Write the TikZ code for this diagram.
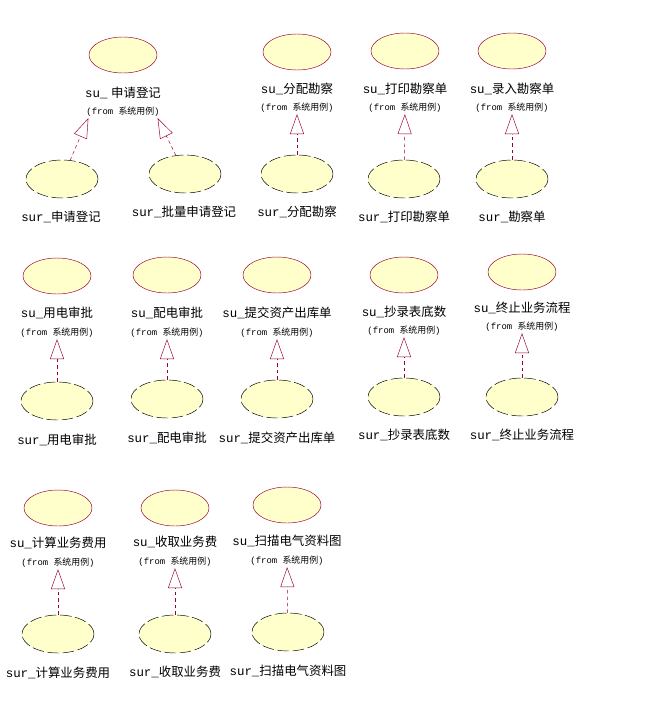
\documentclass[tikz,border=0pt]{standalone}
\usepackage{fontspec}
\setmainfont{Liberation Mono}
\newfontfamily\cjk{Noto Sans CJK SC}
\usetikzlibrary{shapes.geometric,arrows.meta}
\definecolor{ucred}{HTML}{990033}
\definecolor{ucfill}{HTML}{FFFFCC}
\newcommand{\zh}[1]{{\cjk #1}}

\begin{document}
\begin{tikzpicture}[x=0.03cm, y=-0.03cm,
    usecase/.style={ellipse, draw=ucred, fill=ucfill, minimum width=2.04cm, minimum height=1.08cm, inner sep=0pt},
    realcase/.style={ellipse, draw=black, dash pattern=on 10pt off 3pt, fill=ucfill, minimum width=2.16cm, minimum height=1.14cm, inner sep=0pt},
    ucname/.style={font=\fontsize{10.6pt}{12pt}\selectfont, inner sep=1pt},
    fromtag/.style={font=\fontsize{7.6pt}{9pt}\selectfont, inner sep=1pt},
    realize/.style={draw=ucred, thin, dash pattern=on 3pt off 2.5pt, -{Triangle[open, length=0.6cm, width=0.42cm]}}]
    \useasboundingbox (0,0) rectangle (657,727);

    % ==== 第一行 ====
    \node[usecase] (su1) at (123,55) {};
    \node[ucname] (su1name) at (123,93) {su\_\hspace{0.3em}\zh{申请登记}};
    \node[fromtag] (su1from) at (123,112) {(from \zh{系统用例})};
    \node[realcase] (sur1a) at (62,179) {};
    \node[ucname] (sur1aname) at (61,217) {sur\_\zh{申请登记}};
    \node[realcase] (sur1b) at (185,174) {};
    \node[ucname] (sur1bname) at (184,212) {sur\_\zh{批量申请登记}};
    \draw[realize] (sur1a) -- ([xshift=0.1cm]su1from.south west);
    \draw[realize] (sur1b) -- ([xshift=-0.1cm]su1from.south east);

    \node[usecase] (su2) at (297,52) {};
    \node[ucname] (su2name) at (297,89) {su\_\zh{分配勘察}};
    \node[fromtag] (su2from) at (297,108) {(from \zh{系统用例})};
    \node[realcase] (sur2) at (297,174) {};
    \node[ucname] (sur2name) at (297,212) {sur\_\zh{分配勘察}};
    \draw[realize] (sur2) -- (su2from);

    \node[usecase] (su3) at (405,51) {};
    \node[ucname] (su3name) at (405,89) {su\_\zh{打印勘察单}};
    \node[fromtag] (su3from) at (405,108) {(from \zh{系统用例})};
    \node[realcase] (sur3) at (404,179) {};
    \node[ucname] (sur3name) at (404,217) {sur\_\zh{打印勘察单}};
    \draw[realize] (sur3) -- (su3from);

    \node[usecase] (su4) at (512,51) {};
    \node[ucname] (su4name) at (512,89) {su\_\zh{录入勘察单}};
    \node[fromtag] (su4from) at (512,108) {(from \zh{系统用例})};
    \node[realcase] (sur4) at (512,179) {};
    \node[ucname] (sur4name) at (512,217) {sur\_\zh{勘察单}};
    \draw[realize] (sur4) -- (su4from);

    % ==== 第二行 ====
    \node[usecase] (su5) at (57,276) {};
    \node[ucname] (su5name) at (57,313) {su\_\zh{用电审批}};
    \node[fromtag] (su5from) at (57,333) {(from \zh{系统用例})};
    \node[realcase] (sur5) at (57,401) {};
    \node[ucname] (sur5name) at (57,440) {sur\_\zh{用电审批}};
    \draw[realize] (sur5) -- (su5from);

    \node[usecase] (su6) at (167,275) {};
    \node[ucname] (su6name) at (167,313) {su\_\zh{配电审批}};
    \node[fromtag] (su6from) at (167,333) {(from \zh{系统用例})};
    \node[realcase] (sur6) at (167,399) {};
    \node[ucname] (sur6name) at (167,438) {sur\_\zh{配电审批}};
    \draw[realize] (sur6) -- (su6from);

    \node[usecase] (su7) at (277,275) {};
    \node[ucname] (su7name) at (277,313) {su\_\zh{提交资产出库单}};
    \node[fromtag] (su7from) at (277,333) {(from \zh{系统用例})};
    \node[realcase] (sur7) at (277,399) {};
    \node[ucname] (sur7name) at (277,438) {sur\_\zh{提交资产出库单}};
    \draw[realize] (sur7) -- (su7from);

    \node[usecase] (su8) at (404,275) {};
    \node[ucname] (su8name) at (404,312) {su\_\zh{抄录表底数}};
    \node[fromtag] (su8from) at (404,331) {(from \zh{系统用例})};
    \node[realcase] (sur8) at (404,397) {};
    \node[ucname] (sur8name) at (404,435) {sur\_\zh{抄录表底数}};
    \draw[realize] (sur8) -- (su8from);

    \node[usecase] (su9) at (522,272) {};
    \node[ucname] (su9name) at (522,308) {su\_\zh{终止业务流程}};
    \node[fromtag] (su9from) at (522,327) {(from \zh{系统用例})};
    \node[realcase] (sur9) at (522,397) {};
    \node[ucname] (sur9name) at (522,435) {sur\_\zh{终止业务流程}};
    \draw[realize] (sur9) -- (su9from);

    % ==== 第三行 ====
    \node[usecase] (su10) at (58,508) {};
    \node[ucname] (su10name) at (58,543) {su\_\zh{计算业务费用}};
    \node[fromtag] (su10from) at (58,563) {(from \zh{系统用例})};
    \node[realcase] (sur10) at (58,634) {};
    \node[ucname] (sur10name) at (58,673) {sur\_\zh{计算业务费用}};
    \draw[realize] (sur10) -- (su10from);

    \node[usecase] (su11) at (175,508) {};
    \node[ucname] (su11name) at (175,542) {su\_\zh{收取业务费}};
    \node[fromtag] (su11from) at (175,562) {(from \zh{系统用例})};
    \node[realcase] (sur11) at (175,634) {};
    \node[ucname] (sur11name) at (175,672) {sur\_\zh{收取业务费}};
    \draw[realize] (sur11) -- (su11from);

    \node[usecase] (su12) at (287,505) {};
    \node[ucname] (su12name) at (287,541) {su\_\zh{扫描电气资料图}};
    \node[fromtag] (su12from) at (287,561) {(from \zh{系统用例})};
    \node[realcase] (sur12) at (288,632) {};
    \node[ucname] (sur12name) at (288,671) {sur\_\zh{扫描电气资料图}};
    \draw[realize] (sur12) -- (su12from);
\end{tikzpicture}
\end{document}
